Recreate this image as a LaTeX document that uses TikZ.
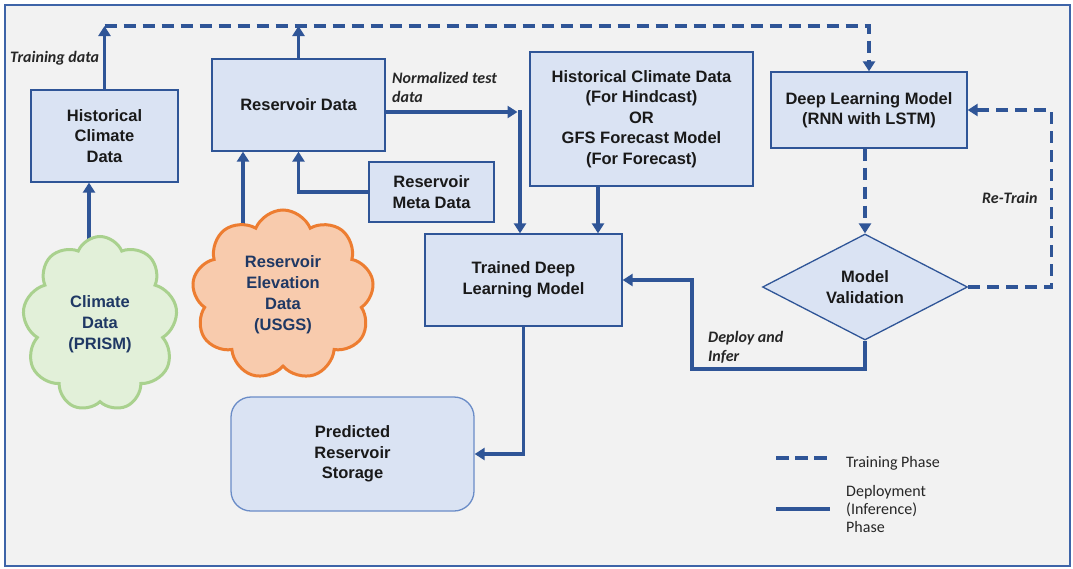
\documentclass[tikz,border=0pt]{standalone}
\usepackage{fontspec}
\setmainfont{Liberation Sans}
\newfontfamily\carl{Carlito}
\usetikzlibrary{shapes.geometric,shapes.symbols,arrows.meta,calc}
\definecolor{ablue}{HTML}{2F5597}
\definecolor{fblue}{HTML}{3E64A8}
\definecolor{boxfill}{HTML}{DAE3F3}
\definecolor{bgc}{HTML}{F2F2F2}
\definecolor{gfill}{HTML}{E2F0D9}
\definecolor{gline}{HTML}{A9D18E}
\definecolor{ofill}{HTML}{F8CBAD}
\definecolor{oline}{HTML}{ED7D31}
\definecolor{navy}{HTML}{1F3864}
\definecolor{predline}{HTML}{6A8CC7}
\pgfdeclarelayer{back}
\pgfdeclarelayer{edges}
\pgfsetlayers{back,edges,main}
\tikzset{
  box/.style={draw=ablue, line width=1.3pt, fill=boxfill, align=center, inner sep=0pt,
    text=black!90, font=\bfseries\fontsize{16.5}{20.5}\selectfont},
  cloudnode/.style={cloud, cloud puffs=9, cloud puff arc=135, cloud ignores aspect,
    line width=3pt, align=center, inner sep=0pt, text=navy,
    font=\bfseries\fontsize{16.5}{21}\selectfont},
  flow/.style={draw=ablue, line width=3.5pt, -{Triangle[length=10pt,width=12pt]}},
  dflow/.style={flow, dash pattern=on 12pt off 7pt},
  lab/.style={font=\carl\bfseries\itshape\fontsize{16}{19}\selectfont, text=black!85,
    inner sep=0pt, align=left, anchor=west},
  legtext/.style={font=\carl\fontsize{16}{18}\selectfont, text=black!85,
    inner sep=0pt, align=left, anchor=west},
  legline/.style={draw=ablue, line width=3.5pt}
}
\begin{document}
\begin{tikzpicture}[x=1pt,y=-1pt]
\useasboundingbox (0,0) rectangle (1073,568);
\begin{pgfonlayer}{back}
\fill[white] (0,0) rectangle (1073,568);
\draw[draw=fblue, line width=2pt, fill=bgc] (5,5) rectangle (1070,566);
\end{pgfonlayer}

% nodes
\node[box, minimum width=147pt, minimum height=92pt] (hcd) at (104.5,136) {Historical\\Climate\\Data};
\node[box, minimum width=173pt, minimum height=92pt] (rd) at (298.5,105) {Reservoir Data};
\node[box, minimum width=125pt, minimum height=60pt] (meta) at (431.5,192) {Reservoir\\Meta Data};
\node[box, minimum width=223pt, minimum height=134pt] (hf) at (641.5,119)
  {Historical Climate Data\\(For Hindcast)\\OR\\GFS Forecast Model\\(For Forecast)};
\node[box, minimum width=196pt, minimum height=76pt] (dl) at (869,110) {Deep Learning Model\\(RNN with LSTM)};
\node[box, minimum width=197pt, minimum height=92pt] (tdl) at (523.5,280) {Trained Deep\\Learning Model};
\node[box, draw=predline, rounded corners=20pt, minimum width=243pt, minimum height=114pt] (pred) at (352.5,454)
  {Predicted\\Reservoir\\Storage};
\node[box, diamond, aspect=1.93, minimum width=205pt, minimum height=106pt] (mv) at (865,287) {Model\\Validation};
\node[cloudnode, draw=gline, fill=gfill, minimum width=155pt, minimum height=175pt] (clim) at (100,324)
  {Climate\\Data\\(PRISM)};
\node[cloudnode, draw=oline, fill=ofill, minimum width=182pt, minimum height=170pt] (res) at (283,295)
  {Reservoir\\Elevation\\Data\\(USGS)};

% labels
\node[lab] (ltd) at (10,58) {Training data};
\node[lab] (lnt) at (392,87.5) {Normalized test\\data};
\node[lab] (lrt) at (982,198) {Re-Train};
\node[lab] (ldi) at (708,347.5) {Deploy and\\Infer};

% legend
\coordinate (lg1a) at (776,458);
\coordinate (lg1b) at (827,458);
\coordinate (lg2a) at (776,509);
\coordinate (lg2b) at (830,509);
\draw[legline, dash pattern=on 13pt off 6pt] (lg1a) -- (lg1b);
\draw[legline] (lg2a) -- (lg2b);
\node[legtext] (ltp) at (846,463) {Training Phase};
\node[legtext] (ldp) at (846,509) {Deployment\\(Inference)\\Phase};

% connectors
\coordinate (top) at (104,26);
\coordinate (dp) at (692,369);
\begin{pgfonlayer}{edges}
\draw[flow] (hcd.north) -- (hcd.north |- top);
\draw[flow] (rd.north) -- (rd.north |- top);
\draw[dflow] (hcd.north |- top) -| (dl.north);
\draw[flow] ([xshift=-15.5pt]hcd.south |- clim.center) -- ([xshift=-15.5pt]hcd.south);
\draw[flow] ([xshift=-55.5pt]rd.south |- res.center) -- ([xshift=-55.5pt]rd.south);
\draw[flow] (meta.west) -| (rd.south);
\draw[flow] ([yshift=-7pt]rd.east) -- ([yshift=-7pt,xshift=-6pt]rd.east -| tdl.north);
\draw[flow] ([yshift=-5pt,xshift=-3.5pt]rd.east -| tdl.north) -- ([xshift=-3.5pt]tdl.north);
\draw[flow] ([xshift=-43.5pt]hf.south) -- ([xshift=-43.5pt]hf.south |- tdl.north);
\draw[dflow] (dl.south -| mv.north) -- (mv.north);
\draw[dflow] (mv.east) -| ([xshift=84pt]dl.east) -- (dl.east);
\draw[flow] (mv.south) |- (dp) |- (tdl.east);
\draw[flow] (tdl.south) |- (pred.east);
\end{pgfonlayer}
\end{tikzpicture}
\end{document}
